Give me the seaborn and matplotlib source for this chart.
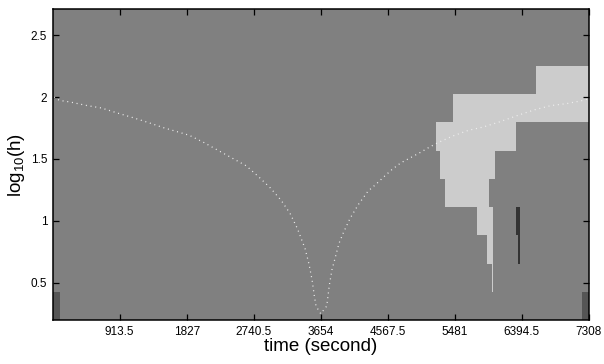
import numpy as np
import pandas as pd
import matplotlib
matplotlib.use("Agg")
import matplotlib.pyplot as plt
from matplotlib.colors import ListedColormap, BoundaryNorm
import seaborn as sns

# ---------------- data ----------------
t_max = 7308
xtick_vals = [913.5, 1827, 2740.5, 3654, 4567.5, 5481, 6394.5, 7308]
xtick_labels = ["913.5", "1827", "2740.5", "3654", "4567.5", "5481", "6394.5", "7308"]
ytick_vals = [0.5, 1, 1.5, 2, 2.5]
ytick_labels = ["0.5", "1", "1.5", "2", "2.5"]

# scale rows (log10 h) edges
y_low, y_high, n_rows = 0.197, 2.71, 11

# segments of the map: row index, start time, end time, level code
# level codes: 0 background, 1 corner (dark grey), 2 dark, 3 light
seg_row = [0, 0, 1, 2, 2, 3, 3, 4, 5, 6, 7, 8]
seg_start = [0, 7217, 5985, 5921, 6345, 5785, 6317, 5349, 5280, 5226, 5458, 6590]
seg_end = [100, 7308, 5999, 6000, 6372, 6000, 6372, 5949, 6030, 6317, 7308, 7308]
seg_level = [1, 1, 3, 3, 2, 3, 2, 3, 3, 3, 3, 3]

# dotted curve (cone)
curve_t = [18, 90, 236, 450, 668, 881, 1091, 1303, 1507, 1726, 1862, 2063, 2258,
           2449, 2640, 2809, 2967, 3113, 3236, 3335, 3440, 3494, 3535, 3567, 3590,
           3654,
           3736, 3753, 3771, 3808, 3849, 3903, 3962, 4053, 4167, 4299, 4404, 4513,
           4626, 4745, 4871, 4998, 5126, 5253, 5454, 5666, 5871, 6085, 6371, 6576,
           6794, 7008, 7234, 7308]
curve_y = [2.0, 1.973, 1.960, 1.933, 1.911, 1.871, 1.834, 1.794, 1.753, 1.715, 1.691,
           1.632, 1.568, 1.506, 1.444, 1.355, 1.266, 1.167, 1.060, 0.939, 0.777, 0.651,
           0.527, 0.393, 0.312,
           0.25,
           0.312, 0.393, 0.479, 0.608, 0.697, 0.818, 0.903, 1.019, 1.132, 1.240, 1.294,
           1.355, 1.415, 1.468, 1.508, 1.548, 1.592, 1.632, 1.685, 1.731, 1.758, 1.798,
           1.858, 1.898, 1.931, 1.947, 1.973, 1.987]

# ---------------- build map ----------------
xedges = np.unique(np.array([0, t_max] + seg_start + seg_end, dtype=float))
yedges = np.linspace(y_low, y_high, n_rows + 1)
Z = np.zeros((n_rows, len(xedges) - 1))
xc = 0.5 * (xedges[:-1] + xedges[1:])
for r, s, e, lv in zip(seg_row, seg_start, seg_end, seg_level):
    Z[r, (xc > s) & (xc < e)] = lv

cmap = ListedColormap(["#808080", "#555555", "#333333", "#cccccc"])
norm = BoundaryNorm([-0.5, 0.5, 1.5, 2.5, 3.5], cmap.N)

# ---------------- plot ----------------
sns.set_style("white")
plt.rcParams["font.family"] = ["Liberation Sans", "DejaVu Sans"]
plt.rcParams["mathtext.fontset"] = "custom"
plt.rcParams["mathtext.rm"] = "Liberation Sans"
plt.rcParams["mathtext.it"] = "Liberation Sans"
plt.rcParams["axes.axisbelow"] = False

fig = plt.figure(figsize=(6.04, 3.64), dpi=100)
ax = fig.add_axes([0.0873, 0.120, 0.8874, 0.855])
ax.set_axisbelow(False)

ax.pcolormesh(xedges, yedges, Z, cmap=cmap, norm=norm, shading="flat", zorder=1)

df = pd.DataFrame({"t": curve_t, "y": curve_y})
sns.lineplot(data=df, x="t", y="y", ax=ax, estimator=None, sort=False,
             color="#f0f0f0", linewidth=0.9, linestyle=(0, (0.8, 3.0)), zorder=3)

ax.set_xlim(0, t_max)
ax.set_ylim(y_low, y_high)
ax.set_xticks(xtick_vals)
ax.set_xticklabels(xtick_labels)
ax.set_yticks(ytick_vals)
ax.set_yticklabels(ytick_labels)
ax.tick_params(direction="in", length=4, width=0.9, color="black", labelcolor="black",
               bottom=True, left=True, top=True, right=True,
               labelsize=8.5, pad=4)
for sp in ax.spines.values():
    sp.set_visible(True)
    sp.set_color("black")
    sp.set_linewidth(1.1)
    sp.set_zorder(5)

ax.set_xlabel("time (second)", fontsize=13.5, labelpad=0, color="black")
ax.set_ylabel(r"log$_{10}$(h)", fontsize=13.5, labelpad=3, color="black")

fig.savefig("out.png", dpi=100)
